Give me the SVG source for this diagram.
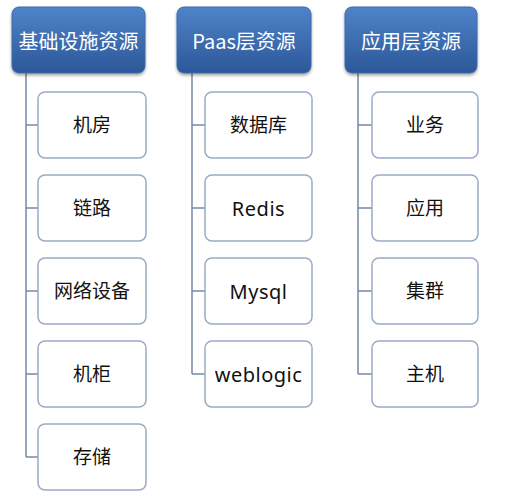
<svg xmlns="http://www.w3.org/2000/svg" width="519" height="500" viewBox="0 0 519 500">
<defs>
<linearGradient id="hg" x1="0" y1="0" x2="0" y2="1">
<stop offset="0" stop-color="#4f84c9"/>
<stop offset="1" stop-color="#2c5798"/>
</linearGradient>
<filter id="sh" x="-10%" y="-10%" width="120%" height="130%">
<feDropShadow dx="0" dy="2" stdDeviation="1.5" flood-color="#000" flood-opacity="0.35"/>
</filter>
<style>
.hd{fill:url(#hg);stroke:#3a6aae;stroke-width:1;filter:url(#sh)}
.ht{fill:#fff;font-family:"Noto Sans CJK SC","Noto Sans",sans-serif;font-size:20px;text-anchor:middle;dominant-baseline:central}
.bx{fill:#fff;stroke:#9aabc6;stroke-width:1.5}
.bt{fill:#111;font-family:"Noto Sans","Noto Sans CJK SC",sans-serif;font-size:19px;text-anchor:middle;dominant-baseline:central}
.lt{font-size:20px;letter-spacing:0.5px}
.cn{fill:none;stroke:#7389a8;stroke-width:1.5}
</style>
</defs>
<rect width="519" height="500" fill="#fff"/>
<g id="connectors">
<path class="cn" d="M26 73V457M26 125H38M26 208H38M26 291H38M26 374H38M26 457H38"/>
<path class="cn" d="M192 73V374M192 125H205M192 208H205M192 291H205M192 374H205"/>
<path class="cn" d="M358 73V374M358 125H372M358 208H372M358 291H372M358 374H372"/>
</g>
<g id="h1"><rect class="hd" x="12" y="7" width="133" height="66" rx="7"/><text class="ht" x="78.5" y="40">基础设施资源</text></g>
<g id="h2"><rect class="hd" x="177" y="7" width="134" height="66" rx="7"/><text class="ht" x="244" y="40">Paas层资源</text></g>
<g id="h3"><rect class="hd" x="345" y="7" width="132" height="66" rx="7"/><text class="ht" x="411" y="40">应用层资源</text></g>
<g id="n1"><rect class="bx" x="38" y="92" width="108" height="66" rx="7"/><text class="bt" x="92" y="125">机房</text></g>
<g id="n2"><rect class="bx" x="38" y="175" width="108" height="66" rx="7"/><text class="bt" x="92" y="208">链路</text></g>
<g id="n3"><rect class="bx" x="38" y="258" width="108" height="66" rx="7"/><text class="bt" x="92" y="291">网络设备</text></g>
<g id="n4"><rect class="bx" x="38" y="341" width="108" height="66" rx="7"/><text class="bt" x="92" y="374">机柜</text></g>
<g id="n5"><rect class="bx" x="38" y="424" width="108" height="66" rx="7"/><text class="bt" x="92" y="457">存储</text></g>
<g id="n6"><rect class="bx" x="205" y="92" width="107" height="66" rx="7"/><text class="bt" x="258.5" y="125">数据库</text></g>
<g id="n7"><rect class="bx" x="205" y="175" width="107" height="66" rx="7"/><text class="bt lt" x="258.5" y="208">Redis</text></g>
<g id="n8"><rect class="bx" x="205" y="258" width="107" height="66" rx="7"/><text class="bt lt" x="258.5" y="291">Mysql</text></g>
<g id="n9"><rect class="bx" x="205" y="341" width="107" height="66" rx="7"/><text class="bt lt" x="258.5" y="374">weblogic</text></g>
<g id="n10"><rect class="bx" x="372" y="92" width="106" height="66" rx="7"/><text class="bt" x="425" y="125">业务</text></g>
<g id="n11"><rect class="bx" x="372" y="175" width="106" height="66" rx="7"/><text class="bt" x="425" y="208">应用</text></g>
<g id="n12"><rect class="bx" x="372" y="258" width="106" height="66" rx="7"/><text class="bt" x="425" y="291">集群</text></g>
<g id="n13"><rect class="bx" x="372" y="341" width="106" height="66" rx="7"/><text class="bt" x="425" y="374">主机</text></g>
</svg>
